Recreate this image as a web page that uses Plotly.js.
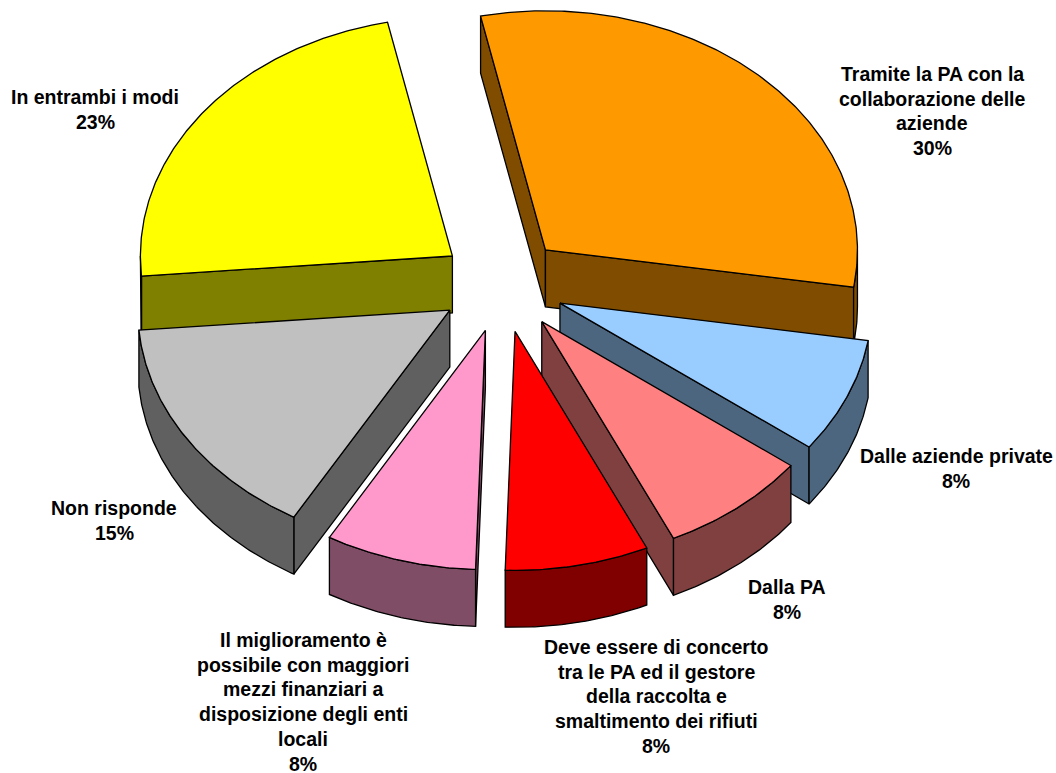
<!DOCTYPE html>
<html>
<head>
<meta charset="utf-8">
<script src="https://cdn.plot.ly/plotly-3.0.1.min.js"></script>
<style>html,body{margin:0;padding:0;background:#fff}</style>
</head>
<body>
<div id="chart" style="width:1056px;height:773px"></div>
<script>
const categories = ["Tramite la PA con la<br>collaborazione delle<br>aziende","Dalle aziende private","Dalla PA","Deve essere di concerto<br>tra le PA ed il gestore<br>della raccolta e<br>smaltimento dei rifiuti","Il miglioramento è<br>possibile con maggiori<br>mezzi finanziari a<br>disposizione degli enti<br>locali","Non risponde","In entrambi i modi"];
const values = [30.83,7.78,7.78,7.44,7.83,15.33,23.0];
const percentLabels = ["30%","8%","8%","8%","8%","15%","23%"];
const topColors = ["#FF9900","#99CCFF","#FF8080","#FF0000","#FF99CC","#C0C0C0","#FFFF00"];
const sideColors = ["#804D00","#4D6680","#804040","#800000","#804D66","#606060","#808000"];
const labelX = [932,956,787,656,303,114,95];
const labelFirstY = [74,456,587,647,640,508,97];
const drawOrder = [0,6,1,5,2,4,3];

const cx=502.5, cy=284.5, rx=312, ry=239, depth=57, pull=0.2, startAngle=-12, lineStep=24.7;
const rad=d=>d*Math.PI/180;
const total=values.reduce((a,b)=>a+b,0);
let acc=startAngle;
const slices=values.map((v,i)=>{const a=acc,b=acc+v/total*360;acc=b;return{i,a,b};});
const pt=(t,ax,ay,dy=0)=>[ax+rx*Math.sin(rad(t)),ay-ry*Math.cos(rad(t))+dy];
function poly(points,fill,name){
  return {type:"scatter",mode:"lines",x:points.map(p=>p[0]),y:points.map(p=>p[1]),fill:"toself",fillcolor:fill,
    line:{color:"#000",width:1.3,shape:"linear"},hoverinfo:"skip",showlegend:false,name};
}
function arc(a,b,ax,ay,dy=0){
  const n=Math.max(2,Math.ceil((b-a)*2)),r=[];
  for(let k=0;k<=n;k++) r.push(pt(a+(b-a)*k/n,ax,ay,dy));
  return r;
}
const traces=[];
drawOrder.forEach(idx=>{
  const s=slices[idx];
  const mid=(s.a+s.b)/2;
  const ax=cx+pull*rx*Math.sin(rad(mid)), ay=cy-pull*ry*Math.cos(rad(mid));
  const name=categories[idx].replace(/<br>/g," ");
  [[s.a,s.a-90],[s.b,s.b+90]].forEach(([t,normal])=>{
    if(Math.cos(rad(normal))>=0) return;
    const p=pt(t,ax,ay);
    traces.push(poly([[ax,ay],p,[p[0],p[1]+depth],[ax,ay+depth],[ax,ay]],sideColors[idx],name));
  });
  const r0=Math.max(s.a,90), r1=Math.min(s.b,270);
  if(r1>r0){
    const upper=arc(r0,r1,ax,ay), lower=arc(r0,r1,ax,ay,depth).reverse();
    traces.push(poly(upper.concat(lower,[upper[0]]),sideColors[idx],name));
  }
  traces.push(poly([[ax,ay]].concat(arc(s.a,s.b,ax,ay),[[ax,ay]]),topColors[idx],name));
});
const annotations=[];
categories.forEach((c,i)=>{
  c.split("<br>").concat(percentLabels[i]).forEach((line,k)=>{
    annotations.push({
      x:labelX[i],y:labelFirstY[i]+k*lineStep,xref:"x",yref:"y",showarrow:false,align:"center",xanchor:"center",yanchor:"middle",
      text:"<b>"+line+"</b>",
      font:{family:"Liberation Sans, Arial, sans-serif",size:19.5,color:"#000"}
    });
  });
});
Plotly.newPlot("chart",traces,{
  width:1056,height:773,margin:{l:0,r:0,t:0,b:0},paper_bgcolor:"#fff",plot_bgcolor:"#fff",showlegend:false,
  xaxis:{visible:false,range:[0,1056],fixedrange:true},
  yaxis:{visible:false,range:[773,0],fixedrange:true},
  annotations
},{displayModeBar:false,staticPlot:true});
</script>
</body>
</html>
